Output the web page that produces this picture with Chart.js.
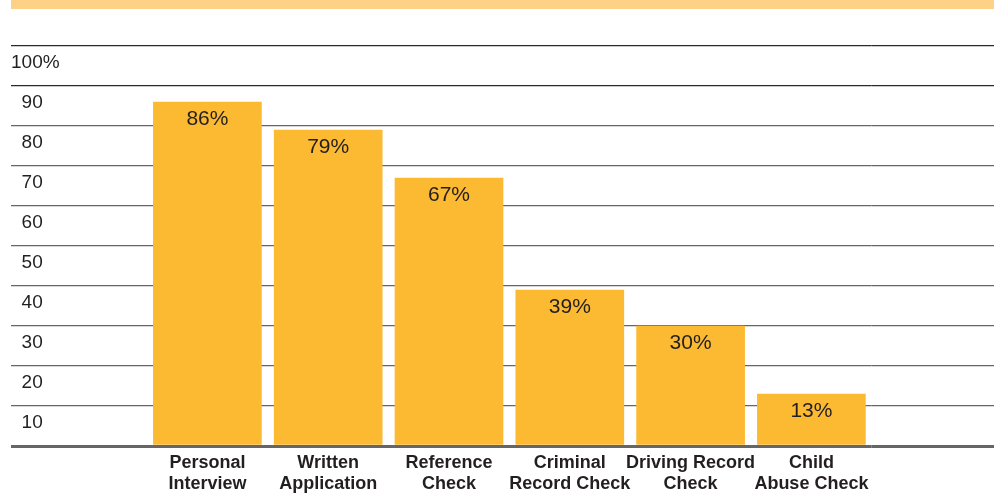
<!DOCTYPE html>
<html>
<head>
<meta charset="utf-8">
<script src="https://cdn.jsdelivr.net/npm/chart.js@4/dist/chart.umd.min.js"></script>
<style>
  html, body { margin: 0; padding: 0; background: #fff; }
  canvas { display: block; }
</style>
</head>
<body>
<canvas id="screening" width="994" height="497"></canvas>
<script>
// screening methods used, percent of organisations
const categories = [
  ['Personal', 'Interview'],
  ['Written', 'Application'],
  ['Reference', 'Check'],
  ['Criminal', 'Record Check'],
  ['Driving Record', 'Check'],
  ['Child', 'Abuse Check']
];
const percentUsed = [86, 79, 67, 39, 30, 13];
const yTicks = [0, 10, 20, 30, 40, 50, 60, 70, 80, 90, 100];

const TEXT = '#231f20';
const BAR = '#fcb932';

Chart.defaults.font.family = '"Liberation Sans", Arial, Helvetica, sans-serif';

// pale strip across the top of the figure
const topBand = {
  id: 'topBand',
  beforeDraw(chart) {
    const c = chart.ctx;
    c.save();
    c.fillStyle = '#fdd287';
    c.fillRect(11, 0, chart.width - 11, 9);
    c.restore();
  }
};

// percentage written just inside the top of each bar
const barValues = {
  id: 'barValues',
  afterDatasetsDraw(chart) {
    const c = chart.ctx;
    const meta = chart.getDatasetMeta(0);
    c.save();
    c.fillStyle = TEXT;
    c.font = '21px "Liberation Sans", Arial, sans-serif';
    c.textAlign = 'center';
    c.textBaseline = 'middle';
    meta.data.forEach((bar, i) => {
      c.fillText(percentUsed[i] + '%', bar.x, bar.y + 17);
    });
    c.restore();
  }
};

const lineColor = ctx => (ctx.tick && ctx.tick.value >= 90) ? '#2a2a2a' : '#666';
const lineWidth = ctx => (ctx.tick && ctx.tick.value === 0) ? 3 : 1.3;

new Chart(document.getElementById('screening'), {
  type: 'bar',
  data: {
    labels: categories,
    datasets: [{
      data: percentUsed,
      backgroundColor: BAR,
      borderWidth: 0,
      barThickness: 108,
      categoryPercentage: 1.0
    }]
  },
  options: {
    responsive: false,
    animation: false,
    layout: { padding: { left: 11, top: 46, right: 0, bottom: 0 } },
    plugins: {
      legend: { display: false },
      tooltip: { enabled: false }
    },
    scales: {
      x: {
        grid: { display: false, drawTicks: false },
        border: { display: false },
        ticks: {
          color: TEXT,
          padding: 7,
          font: { size: 18, weight: 'bold', lineHeight: 1.16 },
          maxRotation: 0,
          autoSkip: false
        },
        afterFit: s => { s.height = 51; }
      },
      y: {
        position: 'left',
        min: 0,
        max: 100,
        afterBuildTicks: s => { s.ticks = yTicks.map(v => ({ value: v })); },
        grid: {
          color: lineColor,
          lineWidth: lineWidth,
          drawTicks: true,
          tickLength: 136
        },
        border: { display: false },
        ticks: {
          color: TEXT,
          crossAlign: 'far',
          labelOffset: 17,
          font: { size: 19 },
          callback: v => v === 100 ? '100%' : (v === 0 ? '' : '\u2007' + v)
        },
        afterFit: s => { s.width = 136; }
      },
      yRight: {
        position: 'right',
        min: 0,
        max: 100,
        afterBuildTicks: s => { s.ticks = yTicks.map(v => ({ value: v })); },
        grid: {
          color: lineColor,
          lineWidth: lineWidth,
          drawOnChartArea: false,
          drawTicks: true,
          tickLength: 123
        },
        border: { display: false },
        ticks: { display: false },
        afterFit: s => { s.width = 122.2; }
      }
    }
  },
  plugins: [topBand, barValues]
});
</script>
</body>
</html>
